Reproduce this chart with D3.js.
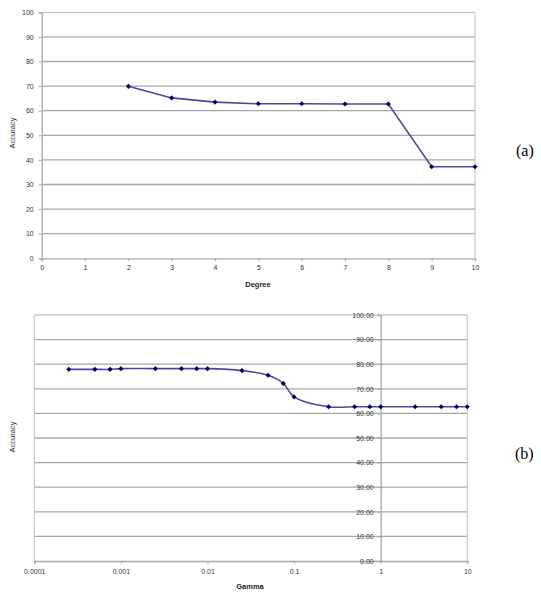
<!DOCTYPE html>
<html>
<head>
<meta charset="utf-8">
<script src="https://cdn.jsdelivr.net/npm/d3@7"></script>
<style>
  body { margin: 0; background: #fff; }
  text { font-family: "Liberation Sans", Arial, sans-serif; }
</style>
</head>
<body>
<div id="main"></div>
<script>
// chart (a): accuracy vs polynomial degree
const degree = [2, 3, 4, 5, 6, 7, 8, 9, 10];
const degreeAccuracy = [69.9, 65.2, 63.5, 62.8, 62.8, 62.7, 62.7, 37.2, 37.2];
const degreeTicks = [0, 1, 2, 3, 4, 5, 6, 7, 8, 9, 10];
const accTicksA = [0, 10, 20, 30, 40, 50, 60, 70, 80, 90, 100];

// chart (b): accuracy vs gamma
const gamma = [0.00025, 0.0005, 0.00075, 0.001, 0.0025, 0.005, 0.0075, 0.01, 0.025, 0.05,
               0.075, 0.1, 0.25, 0.5, 0.75, 1, 2.5, 5, 7.5, 10];
const gammaAccuracy = [77.9, 77.9, 77.9, 78.2, 78.2, 78.2, 78.2, 78.2, 77.4, 75.5,
                       72.2, 66.7, 62.7, 62.7, 62.7, 62.7, 62.7, 62.7, 62.7, 62.7];
const gammaTicks = [0.0001, 0.001, 0.01, 0.1, 1, 10];
const gammaTickLabels = ["0.0001", "0.001", "0.01", "0.1", "1", "10"];
const accTicksB = [0, 10, 20, 30, 40, 50, 60, 70, 80, 90, 100];

const ctx = { w: 541, h: 593 };
const gridColor = "#a8a8a8",
      borderColor = "#c8c8c8",
      lineColor = "#4a4a9c",
      markColor = "#000066",
      labelColor = "#333";

const svg = d3.select("#main").append("svg")
    .attr("width", ctx.w)
    .attr("height", ctx.h);

// excel-like diamond: a square turned 45 degrees
const marker = d3.symbol(d3.symbolSquare, 13);

function drawChartA() {
    const x = d3.scaleLinear().domain([0, 10]).range([41.7, 475]);
    const y = d3.scaleLinear().domain([0, 100]).range([258.3, 12.3]);
    const g = svg.append("g");

    // gridlines
    g.selectAll(".grid").data(accTicksA.filter(d => d > 0))
      .enter().append("line")
      .attr("x1", x(0)).attr("x2", x(10))
      .attr("y1", d => y(d)).attr("y2", d => y(d))
      .attr("stroke", d => d === 100 ? borderColor : gridColor)
      .attr("stroke-width", 1.3);
    g.append("line")
      .attr("x1", x(10)).attr("x2", x(10))
      .attr("y1", y(0)).attr("y2", y(100))
      .attr("stroke", borderColor).attr("stroke-width", 1.2);

    const yAxis = g.append("g")
      .attr("transform", `translate(${x(0)},0)`)
      .call(d3.axisLeft(y).tickValues(accTicksA).tickSize(3).tickPadding(5));
    const xAxis = g.append("g")
      .attr("transform", `translate(0,${y(0)})`)
      .call(d3.axisBottom(x).tickValues(degreeTicks).tickSize(3).tickPadding(4));
    [yAxis, xAxis].forEach(a => {
        a.select(".domain").attr("stroke", gridColor).attr("stroke-width", 1.3);
        a.selectAll(".tick line").attr("stroke", gridColor);
        a.selectAll("text").attr("fill", labelColor).style("font-size", "7px");
    });

    const line = d3.line().x(d => x(d[0])).y(d => y(d[1]));
    const pts = degree.map((d, i) => [d, degreeAccuracy[i]]);
    g.append("path").datum(pts)
      .attr("d", line)
      .attr("fill", "none")
      .attr("stroke", lineColor)
      .attr("stroke-width", 1.6);
    g.selectAll(".pt").data(pts)
      .enter().append("path")
      .attr("transform", d => `translate(${x(d[0])},${y(d[1])}) rotate(45)`)
      .attr("d", marker)
      .attr("fill", markColor);

    svg.append("text")
      .attr("transform", "translate(15,133) rotate(-90)")
      .attr("text-anchor", "middle")
      .attr("fill", labelColor)
      .style("font-size", "7.5px")
      .text("Accuracy");
    svg.append("text")
      .attr("x", 258).attr("y", 287)
      .attr("text-anchor", "middle")
      .attr("fill", "#222")
      .style("font-size", "7.5px")
      .style("font-weight", "bold")
      .text("Degree");
    svg.append("text")
      .attr("x", 516).attr("y", 156)
      .style("font-family", "'Liberation Serif', 'Times New Roman', serif")
      .style("font-size", "16px")
      .text("(a)");
}

function drawChartB() {
    const x = d3.scaleLog().domain([0.0001, 10]).range([34.3, 467.3]);
    const y = d3.scaleLinear().domain([0, 100]).range([561, 315]);
    const g = svg.append("g");

    g.selectAll(".grid").data(accTicksB.filter(d => d > 0))
      .enter().append("line")
      .attr("x1", x(0.0001)).attr("x2", x(10))
      .attr("y1", d => y(d)).attr("y2", d => y(d))
      .attr("stroke", d => d === 100 ? borderColor : gridColor)
      .attr("stroke-width", 1.3);
    [0.0001, 10].forEach(v => {
        g.append("line")
          .attr("x1", x(v)).attr("x2", x(v))
          .attr("y1", y(0)).attr("y2", y(100))
          .attr("stroke", borderColor).attr("stroke-width", 1.2);
    });

    const xAxis = g.append("g")
      .attr("transform", `translate(0,${y(0)})`)
      .call(d3.axisBottom(x).tickValues(gammaTicks)
        .tickFormat((d, i) => gammaTickLabels[i]).tickSize(3).tickPadding(5));
    const yAxis = g.append("g")
      .attr("transform", `translate(${x(1)},0)`)
      .call(d3.axisLeft(y).tickValues(accTicksB).tickFormat(d3.format(".2f"))
        .tickSize(3).tickPadding(4));
    [yAxis, xAxis].forEach(a => {
        a.select(".domain").attr("stroke", gridColor).attr("stroke-width", 1.3);
        a.selectAll(".tick line").attr("stroke", gridColor);
        a.selectAll("text").attr("fill", labelColor).style("font-size", "7px");
    });

    // Excel-style smoothed line
    const line = d3.line().x(d => x(d[0])).y(d => y(d[1])).curve(d3.curveCatmullRom.alpha(0.5));
    const pts = gamma.map((d, i) => [d, gammaAccuracy[i]]);
    g.append("path").datum(pts)
      .attr("d", line)
      .attr("fill", "none")
      .attr("stroke", lineColor)
      .attr("stroke-width", 1.6);
    g.selectAll(".pt").data(pts)
      .enter().append("path")
      .attr("transform", d => `translate(${x(d[0])},${y(d[1])}) rotate(45)`)
      .attr("d", marker)
      .attr("fill", markColor);

    svg.append("text")
      .attr("transform", "translate(15,437) rotate(-90)")
      .attr("text-anchor", "middle")
      .attr("fill", labelColor)
      .style("font-size", "7.5px")
      .text("Accuracy");
    svg.append("text")
      .attr("x", 250).attr("y", 589)
      .attr("text-anchor", "middle")
      .attr("fill", "#222")
      .style("font-size", "7.5px")
      .style("font-weight", "bold")
      .text("Gamma");
    svg.append("text")
      .attr("x", 515).attr("y", 459)
      .style("font-family", "'Liberation Serif', 'Times New Roman', serif")
      .style("font-size", "16px")
      .text("(b)");
}

drawChartA();
drawChartB();
</script>
</body>
</html>
